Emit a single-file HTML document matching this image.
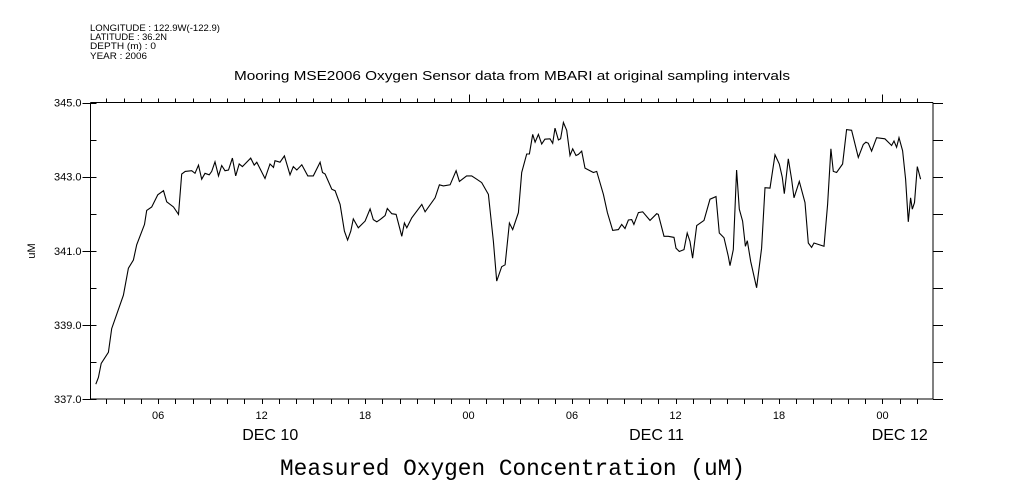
<!DOCTYPE html>
<html><head><meta charset="utf-8">
<style>
html,body{margin:0;padding:0;background:#fff;}
svg{display:block;font-family:"Liberation Sans",sans-serif;}
</style></head>
<body>
<svg id="chart" width="1009" height="504" viewBox="0 0 1009 504">
<g font-size="9" fill="#000">
<text x="90" y="31" textLength="130" lengthAdjust="spacingAndGlyphs">LONGITUDE : 122.9W(-122.9)</text>
<text x="90" y="40" textLength="77" lengthAdjust="spacingAndGlyphs">LATITUDE : 36.2N</text>
<text x="90" y="49" textLength="66" lengthAdjust="spacingAndGlyphs">DEPTH (m) : 0</text>
<text x="90" y="59" textLength="57" lengthAdjust="spacingAndGlyphs">YEAR : 2006</text>
</g>
<text x="234" y="80" textLength="556" lengthAdjust="spacingAndGlyphs" font-size="12.5">Mooring MSE2006 Oxygen Sensor data from MBARI at original sampling intervals</text>
<text transform="translate(35,251) rotate(-90)" text-anchor="middle" font-size="11">uM</text>
<text x="280" y="475" textLength="465" lengthAdjust="spacingAndGlyphs" font-size="23" font-family="Liberation Mono, monospace">Measured Oxygen Concentration (uM)</text>
<g id="axes"></g>
<g id="series"></g>
</svg>
<script>
const hours = [2.39,2.54,2.70,3.12,3.31,3.99,4.28,4.57,4.76,5.21,5.34,5.63,5.98,6.31,6.50,6.89,7.18,7.37,7.57,7.95,8.14,8.34,8.53,8.72,8.96,9.11,9.30,9.50,9.69,9.88,10.08,10.31,10.50,10.70,10.89,11.37,11.57,11.72,12.20,12.49,12.69,12.78,13.07,13.32,13.65,13.84,14.04,14.33,14.68,15.00,15.39,15.53,15.68,16.07,16.26,16.55,16.80,16.99,17.17,17.32,17.61,18.00,18.29,18.48,18.68,18.87,19.16,
19.29,19.55,19.80,20.13,20.28,20.42,20.71,21.29,21.48,22.06,22.31,22.54,22.93,23.28,23.47,23.89,24.18,24.47,24.76,25.15,25.44,25.63,25.92,26.12,26.37,26.56,26.89,27.08,27.37,27.53,27.72,27.86,28.05,28.24,28.43,28.72,28.88,29.01,29.21,29.34,29.50,29.69,29.88,30.04,30.23,30.37,30.56,30.75,31.04,31.24,31.43,31.82,32.05,32.36,32.69,32.88,33.07,33.27,33.46,33.59,33.85,34.10,34.52,34.91,35.00,
35.33,35.58,35.91,36.03,36.22,36.49,36.68,36.84,36.99,37.23,37.65,38.00,38.35,38.54,38.81,39.06,39.16,39.35,39.54,39.70,39.89,40.05,40.16,40.36,40.70,40.99,41.19,41.48,41.77,42.02,42.19,42.31,42.54,42.73,42.87,43.18,43.51,43.70,43.89,44.03,44.61,44.82,45.01,45.15,45.34,45.69,45.92,46.21,46.60,46.89,47.04,47.18,47.37,47.66,48.14,48.53,48.67,48.82,48.96,49.17,49.34,49.50,49.63,49.73,49.86,50.02,50.21];
const oxygen = [337.40,337.58,337.96,338.26,338.90,339.80,340.53,340.75,341.16,341.71,342.09,342.18,342.51,342.62,342.32,342.18,341.98,343.07,343.14,343.16,343.09,343.31,342.93,343.09,343.05,343.14,343.40,343.02,343.30,343.16,343.18,343.50,343.02,343.34,343.27,343.50,343.31,343.39,342.95,343.34,343.25,343.43,343.39,343.56,343.05,343.27,343.18,343.32,343.02,343.02,343.39,343.11,343.07,342.66,342.62,342.25,341.53,341.29,341.53,341.86,341.62,341.80,342.13,341.84,341.78,341.84,341.95,
342.14,342.00,341.98,341.39,341.75,341.62,341.89,342.25,342.05,342.43,342.78,342.75,342.78,343.16,342.87,343.02,343.02,342.93,342.84,342.52,341.25,340.18,340.57,340.62,341.75,341.57,342.03,343.11,343.61,343.61,344.14,343.93,344.14,343.88,344.01,344.02,343.90,344.31,343.99,344.02,344.46,344.25,343.57,343.75,343.57,343.60,343.69,343.23,343.16,343.11,343.14,342.52,342.03,341.55,341.57,341.71,341.60,341.83,341.84,341.71,342.03,342.05,341.82,342.00,341.98,341.39,
341.39,341.36,341.07,340.98,341.03,341.48,341.25,340.80,341.68,341.82,342.39,342.46,341.48,341.35,340.85,340.60,341.03,343.18,342.12,341.80,341.12,341.27,340.71,340.00,341.07,342.70,342.69,343.59,343.34,342.98,342.54,343.48,342.93,342.43,342.87,342.30,341.21,341.09,341.21,341.12,342.25,343.75,343.14,343.11,343.34,344.27,344.25,343.52,343.87,343.93,343.90,343.69,344.05,344.02,343.84,343.96,343.79,344.05,343.70,342.93,341.78,342.43,342.12,342.30,343.27,342.93,342.62];
const yTicks = [337,338,339,340,341,342,343,344,345];
const yTickLabels = ["337.0","339.0","341.0","343.0","345.0"];
const xMajorHours = [6,12,18,24,30,36,42,48];
const xMajorLabels = ["06","12","18","00","06","12","18","00"];
const dayHours = [12.5,34.9,49];
const dayLabels = ["DEC 10","DEC 11","DEC 12"];

const X0=90.5, X1=933, Y0=102.5, Y1=399;
const H0=2.08, H1=50.93, V0=337, V1=345;
function xs(h){return X0+(h-H0)/(H1-H0)*(X1-X0);}
function ys(v){return Y1-(v-V0)/(V1-V0)*(Y1-Y0);}
const NS="http://www.w3.org/2000/svg";
const axes=document.getElementById('axes');
function line(x1,y1,x2,y2,name){
  const l=document.createElementNS(NS,'line');
  l.setAttribute('x1',x1);l.setAttribute('y1',y1);l.setAttribute('x2',x2);l.setAttribute('y2',y2);
  l.setAttribute('stroke','#000');l.setAttribute('stroke-width','1');
  
  
  axes.appendChild(l);
}
function text(x,y,s,size,anchor,name){
  const t=document.createElementNS(NS,'text');
  t.setAttribute('x',x);t.setAttribute('y',y);t.setAttribute('font-size',size);t.setAttribute('text-anchor',anchor);
  t.textContent=s;
  
  
  axes.appendChild(t);
}
line(X0,Y0,X1,Y0,'plot-frame-top');
line(X0,Y1,X1,Y1,'plot-frame-bottom');
line(X0,Y0,X0,Y1,'plot-frame-left');
line(X1,Y0,X1,Y1,'plot-frame-right');
yTicks.forEach((v,i)=>{
  const y=Math.round(ys(v))+0.5;
  line(X0-(i%2===0?8:0),y,X0+6,y,'y-tick-left');
  line(X1,y,X1+10,y,'y-tick-right');
});
yTickLabels.forEach(s=>{
  text(X0-9,ys(parseFloat(s))+4,s,11,'end','y-tick-label');
});
for(let h=3;h<=50;h++){
  const x=Math.round(xs(h))+0.5;
  const major=(h%24===0);
  line(x,Y1,x,Y1+5,'x-tick-bottom');
  line(x,Y0,x,Y0-(major?8:4),'x-tick-top');
}
xMajorHours.forEach((h,i)=>{
  text(xs(h),419,xMajorLabels[i],11,'middle','x-tick-label');
});
dayHours.forEach((h,i)=>{
  text(xs(h),440,dayLabels[i],16,'middle','x-day-label');
});
const series=document.getElementById('series');
const p=document.createElementNS(NS,'path');
p.setAttribute('d',hours.map((h,i)=>(i?'L':'M')+xs(h).toFixed(1)+' '+ys(oxygen[i]).toFixed(1)).join(' '));
p.setAttribute('fill','none');p.setAttribute('stroke','#000');p.setAttribute('stroke-width','1.1');


series.appendChild(p);
</script>
</body></html>
